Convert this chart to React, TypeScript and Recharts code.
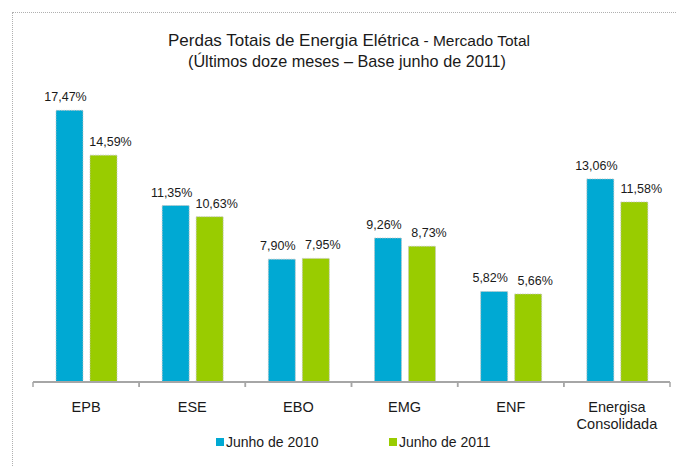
import React from "react";
import { BarChart, Bar, XAxis, YAxis, LabelList } from "recharts";

const categories: string[][] = [
  ["EPB"],
  ["ESE"],
  ["EBO"],
  ["EMG"],
  ["ENF"],
  ["Energisa", "Consolidada"],
];
const junho2010: number[] = [17.47, 11.35, 7.9, 9.26, 5.82, 13.06];
const junho2011: number[] = [14.59, 10.63, 7.95, 8.73, 5.66, 11.58];
const seriesNames: string[] = ["Junho de 2010", "Junho de 2011"];
const seriesColors: string[] = ["#00A9D3", "#99CC00"];
const titleLine1a = "Perdas Totais de Energia Elétrica";
const titleLine1b = " - Mercado  Total";
const titleLine2 = "(Últimos doze meses – Base junho de 2011)";

const data = categories.map((c, i) => ({
  name: c.join(" "),
  a: junho2010[i],
  b: junho2011[i],
}));

const W = 677;
const H = 466;
const M = { top: 71, right: 7, bottom: 54, left: 33 };
const BAND = (W - M.left - M.right) / categories.length;
const FONT = "'Liberation Sans', Arial, sans-serif";

const fmt = (v: any) => `${Number(v).toFixed(2).replace(".", ",")}%`;

const Tick = (props: any) => {
  const { x, y, index } = props;
  const lines = categories[index] || [];
  return (
    <g>
      <line x1={x - BAND / 2} x2={x - BAND / 2} y1={y} y2={y + 5} stroke="#a6a6a6" strokeWidth={1.5} />
      <line x1={x + BAND / 2} x2={x + BAND / 2} y1={y} y2={y + 5} stroke="#a6a6a6" strokeWidth={1.5} />
      {lines.map((l: string, i: number) => (
        <text
          key={i}
          x={x}
          y={y + 30 + i * 17}
          textAnchor="middle"
          fontFamily={FONT}
          fontSize={14.5}
          fill="#1a1a1a"
        >
          {l}
        </text>
      ))}
    </g>
  );
};

const makeLabel = (dx: number) => (props: any) => {
  const { x, y, width, value } = props;
  return (
    <text
      x={Number(x) + Number(width) / 2 + dx}
      y={Number(y) - 9}
      textAnchor="middle"
      fontFamily={FONT}
      fontSize={12.5}
      fill="#1a1a1a"
    >
      {fmt(value)}
    </text>
  );
};

const LabelA = makeLabel(-4);
const LabelB = makeLabel(7);

export default function App() {
  return (
    <div
      style={{
        position: "fixed",
        left: 0,
        top: 0,
        width: W,
        height: H,
        overflow: "hidden",
        background: "#fff",
      }}
    >
      <div
        style={{
          position: "absolute",
          left: 12,
          top: 12,
          width: 800,
          height: 600,
          border: "1px dotted #b0b0b0",
        }}
      />
      <svg width={W} height={70} style={{ position: "absolute", left: 0, top: 0 }}>
        <text
          x={349}
          y={46}
          textAnchor="middle"
          fontFamily={FONT}
          fill="#1a1a1a"
          textLength={362}
          lengthAdjust="spacingAndGlyphs"
        >
          <tspan fontSize={17}>{titleLine1a}</tspan>
          <tspan fontSize={15.5}>{titleLine1b}</tspan>
        </text>
        <text
          x={347}
          y={67}
          textAnchor="middle"
          fontFamily={FONT}
          fontSize={17}
          fill="#1a1a1a"
          textLength={318}
          lengthAdjust="spacingAndGlyphs"
        >
          {titleLine2}
        </text>
      </svg>
      <div style={{ position: "absolute", left: 0, top: 0 }}>
        <BarChart width={W} height={H} data={data} margin={M} barSize={27} barGap={7}>
          <YAxis hide domain={[0, 20]} />
          <XAxis
            dataKey="name"
            height={30}
            axisLine={{ stroke: "#a6a6a6", strokeWidth: 2 }}
            tickLine={false}
            tickSize={0}
            tickMargin={0}
            interval={0}
            tick={<Tick />}
          />
          <Bar
            dataKey="a"
            name={seriesNames[0]}
            fill={seriesColors[0]}
            stroke="#c4c4c4"
            strokeWidth={0.8}
            strokeDasharray="1.5 1"
            isAnimationActive={false}
          >
            <LabelList dataKey="a" content={LabelA} />
          </Bar>
          <Bar
            dataKey="b"
            name={seriesNames[1]}
            fill={seriesColors[1]}
            stroke="#c4c4c4"
            strokeWidth={0.8}
            strokeDasharray="1.5 1"
            isAnimationActive={false}
          >
            <LabelList dataKey="b" content={LabelB} />
          </Bar>
        </BarChart>
      </div>
      {seriesNames.map((n, i) => (
        <div
          key={n}
          style={{
            position: "absolute",
            left: 216 + i * 173,
            top: 434,
            height: 16,
            display: "flex",
            alignItems: "center",
            fontFamily: FONT,
            fontSize: 14,
            color: "#1a1a1a",
            whiteSpace: "nowrap",
          }}
        >
          <span
            style={{
              display: "inline-block",
              width: 8,
              height: 8,
              background: seriesColors[i],
              marginRight: 2,
            }}
          />
          {n}
        </div>
      ))}
    </div>
  );
}
